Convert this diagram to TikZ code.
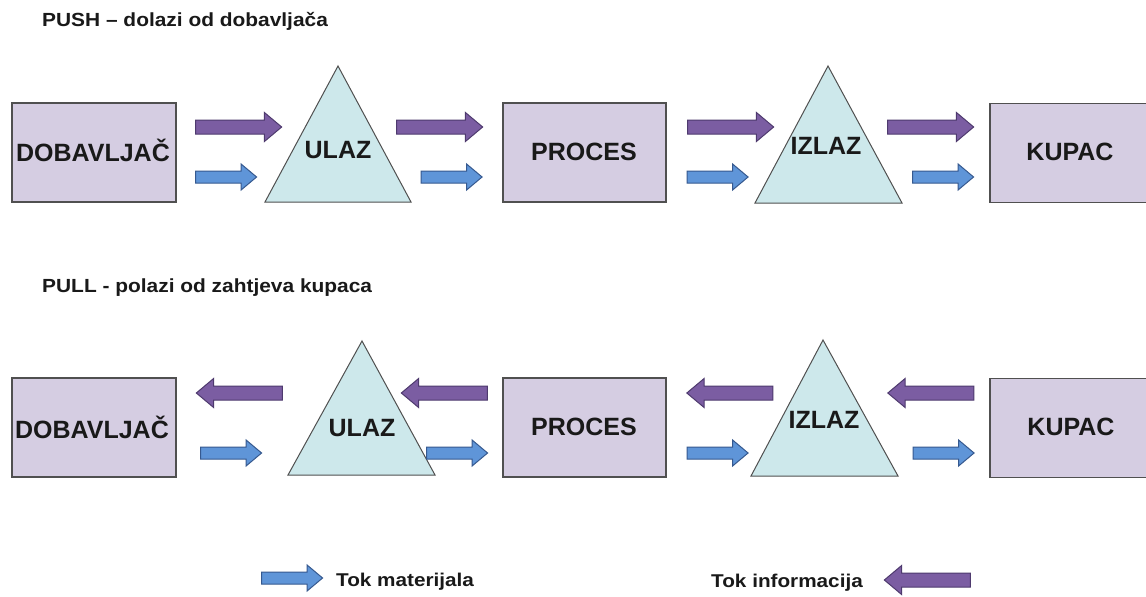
\documentclass[tikz,border=0pt]{standalone}
\usepackage{fontspec}
\setmainfont{Liberation Sans}
\newfontfamily\ttlfont[FakeStretch=1.1]{Liberation Sans}
\newfontfamily\legfont[FakeStretch=1.12]{Liberation Sans}
\usetikzlibrary{shapes.arrows}
\definecolor{boxfill}{HTML}{D5CDE2}
\definecolor{boxline}{HTML}{505050}
\definecolor{trifill}{HTML}{CDE8EB}
\definecolor{pfill}{HTML}{7B5DA2}
\definecolor{pedge}{HTML}{4E3A6E}
\definecolor{bfill}{HTML}{5F95D8}
\definecolor{bedge}{HTML}{36598F}
\begin{document}
\begin{tikzpicture}[x=1pt,y=-1pt,
  box/.style={draw=boxline, line width=1.2pt, fill=boxfill, minimum width=164pt, minimum height=99pt, inner sep=0pt},
  tri/.style={draw=boxline, line width=1pt, fill=trifill, line join=miter},
  lbl/.style={font=\fontsize{25}{27}\selectfont\bfseries, text=black!90, inner sep=0pt, text height=18pt, text depth=0pt},
  parr/.style={single arrow, draw=pedge, fill=pfill, line width=1pt, inner xsep=0pt, inner ysep=6.5pt, text height=0pt, text depth=0pt, minimum height=86pt, single arrow head extend=7.5pt, single arrow tip angle=80},
  barr/.style={single arrow, draw=bedge, fill=bfill, line width=1pt, inner xsep=0pt, inner ysep=5.5pt, text height=0pt, text depth=0pt, minimum height=61pt, single arrow head extend=7pt, single arrow tip angle=80},
  lft/.style={shape border rotate=180},
  ttl/.style={font=\ttlfont\fontsize{19}{22}\selectfont\bfseries, anchor=base west, inner sep=0pt, text=black!90},
  leg/.style={font=\legfont\fontsize{18.5}{22}\selectfont\bfseries, inner sep=0pt, text=black!90},
]
\useasboundingbox (0,0) rectangle (1146,597);
\clip (0,0) rectangle (1146,597);
\fill[white] (0,0) rectangle (1146,597);

% ---------- PUSH ----------
\node[ttl] (t1) at (42,27) {PUSH – dolazi od dobavljača};

\node[box] (d1) at (94,152.5) {};
\node[lbl] at (93,152.5) {DOBAVLJAČ};
\draw[tri] (338,66) -- (411,202) -- (265,202) -- cycle;
\node[lbl] (u1) at (338,149) {ULAZ};
\node[box, minimum width=163pt] (p1) at (584.5,152.5) {};
\node[lbl] at (584,151) {PROCES};
\draw[tri] (828,66) -- (902,203) -- (755,203) -- cycle;
\node[lbl] (i1) at (826,145) {IZLAZ};
\node[box] (k1) at (1072,153) {};
\node[lbl] at (1070,151) {KUPAC};

\node[parr] (pa1) at (234.5,127) {};
\node[parr] (pa2) at (435.5,127) {};
\node[parr] (pa3) at (726.5,127) {};
\node[parr] (pa4) at (926.5,127) {};
\node[barr] (ba1) at (222.5,177) {};
\node[barr] (ba2) at (448,177) {};
\node[barr] (ba3) at (714,177) {};
\node[barr] (ba4) at (939.5,177) {};

% ---------- PULL ----------
\node[ttl] (t2) at (42,292) {PULL - polazi od zahtjeva kupaca};

\node[box] (d2) at (94,427.5) {};
\node[lbl] at (92,429) {DOBAVLJAČ};
\draw[tri] (362,341) -- (435,475) -- (288,475) -- cycle;
\node[lbl] (u2) at (362,427.5) {ULAZ};
\node[box, minimum width=163pt] (p2) at (584.5,427.5) {};
\node[lbl] at (584,426.5) {PROCES};
\draw[tri] (823,340) -- (898,476) -- (751,476) -- cycle;
\node[lbl] (i2) at (824,419) {IZLAZ};
\node[box] (k2) at (1072,428) {};
\node[lbl] at (1071,426.5) {KUPAC};

\node[parr, lft] (pb1) at (243.5,393) {};
\node[parr, lft] (pb2) at (448.5,393) {};
\node[parr, lft] (pb3) at (734,393) {};
\node[parr, lft] (pb4) at (935,393) {};
\node[barr] (bb1) at (227.5,453) {};
\node[barr] (bb2) at (453.5,453) {};
\node[barr] (bb3) at (714,453) {};
\node[barr] (bb4) at (940,453) {};

% ---------- legend ----------
\node[barr] (lb) at (288.5,578) {};
\node[leg, anchor=base west] (lbt) at (336,586) {Tok materijala};
\node[leg, anchor=base east] (lpt) at (863,587) {Tok informacija};
\node[parr, lft] (lp) at (931.5,580) {};
\end{tikzpicture}
\end{document}
